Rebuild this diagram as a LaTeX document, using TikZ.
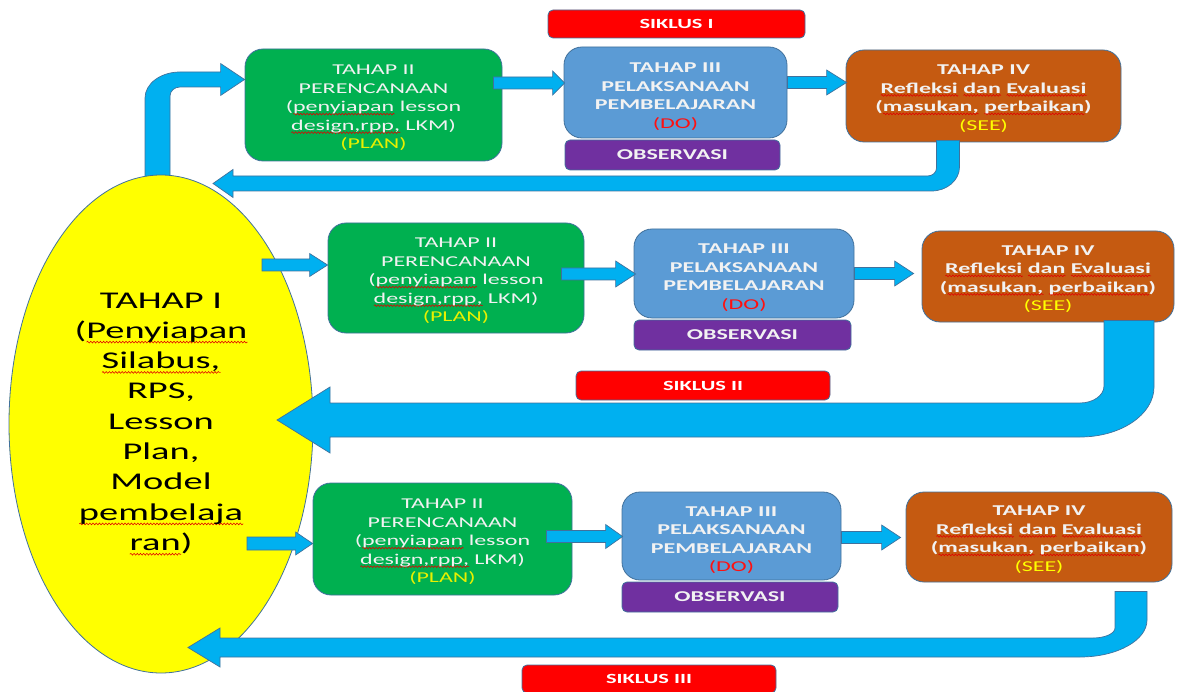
\documentclass[tikz,border=0pt]{standalone}
\usepackage{fontspec}
\setmainfont{Carlito}[FakeStretch=1.6]
\usetikzlibrary{calc,shapes.geometric,decorations.pathmorphing}
\pgfdeclarelayer{bg}
\pgfsetlayers{bg,main}
\definecolor{cgreen}{HTML}{00B050}
\definecolor{cblue}{HTML}{5B9BD5}
\definecolor{corange}{HTML}{C55A11}
\definecolor{cpurple}{HTML}{7030A0}
\definecolor{cred}{HTML}{FF0000}
\definecolor{carrow}{HTML}{00B0F0}
\definecolor{cedge}{HTML}{41719C}
\definecolor{ctext}{HTML}{F2F2F2}
\definecolor{cplan}{HTML}{E8F000}
\definecolor{csee}{HTML}{FFFF00}
\definecolor{cdo}{HTML}{FF1010}
\definecolor{cyel}{HTML}{FFFF00}
\definecolor{wavered}{HTML}{E00000}
\newsavebox\rwbox
\newlength\rwlen
\newcommand\rw[2][3.5pt]{\sbox\rwbox{#2}\setlength\rwlen{\wd\rwbox}%
  \rlap{\raisebox{-#1}{\tikz[x=1pt,y=1pt,sharp corners]\draw[sharp corners,wavered,line width=0.55pt,decorate,decoration={snake,amplitude=0.9pt,segment length=3.2pt}] (0,0) -- (\rwlen,0);}}\usebox\rwbox}
\newcommand\tg[1]{\rule{0pt}{#1}}
\newcommand\harrow[5]{\path[blockarrow] let \p1=#1, \p2=#2 in (\x1,\y1+#3) -- (\x2-#5,\y1+#3) -- (\x2-#5,\y1+#4) -- (\x2,\y1) -- (\x2-#5,\y1-#4) -- (\x2-#5,\y1-#3) -- (\x1,\y1-#3) -- cycle;}
\tikzset{
  box/.style={draw=cedge, line width=0.8pt, rounded corners=18pt, align=center, inner sep=0pt, text=ctext, font=\fontsize{15}{18.5}\selectfont},
  planbox/.style={box, fill=cgreen},
  dobox/.style={box, fill=cblue, font=\fontsize{15}{18.5}\selectfont\bfseries},
  seebox/.style={box, fill=corange, font=\fontsize{15}{18.5}\selectfont\bfseries},
  obsbox/.style={box, fill=cpurple, rounded corners=5pt, font=\fontsize{15}{18}\selectfont\bfseries},
  cyclebox/.style={box, fill=cred, rounded corners=5pt, text=white, font=\fontsize{14}{17}\selectfont\bfseries},
  blockarrow/.style={fill=carrow, draw=cedge, line width=0.7pt, line join=miter},
  stageone/.style={ellipse, draw=cedge, line width=0.8pt, fill=cyel, inner sep=0pt, align=center, text=black, font=\fontsize{24}{30.3}\selectfont}
}
\begin{document}
\begin{tikzpicture}[x=1pt,y=-1pt]
\useasboundingbox (0,0) rectangle (1182,692);
% stage I
\node[stageone, minimum width=304pt, minimum height=498pt] (e) at (161,424)
  {TAHAP I\\(\rw[5pt]{Penyiapan}\\\rw[5pt]{Silabus,}\\RPS,\\Lesson\\Plan,\\Model\\\rw[5pt]{pembelaja}\\\rw[5pt]{ran})};
% row 1
\node[cyclebox, minimum width=257pt, minimum height=28pt] (s1) at (676.5,24) {SIKLUS I};
\node[planbox, minimum width=257pt, minimum height=112pt] (g1) at (373.5,105)
  {\tg{15.7pt}TAHAP II\\PERENCANAAN\\(\rw{penyiapan} lesson\\\rw{design,rpp,} LKM)\\\textcolor{cplan}{(PLAN)}};
\node[dobox, minimum width=223pt, minimum height=91pt] (b1) at (675.5,92.5)
  {\tg{17.7pt}TAHAP III\\PELAKSANAAN\\PEMBELAJARAN\\{\mdseries\color{cdo}(DO)}};
\node[obsbox, minimum width=215pt, minimum height=30pt] (ob1) at (672.5,155) {OBSERVASI};
\node[seebox, minimum width=275pt, minimum height=92pt] (o1) at (983.5,96)
  {\tg{14.7pt}TAHAP IV\\\rw{Refleksi} \rw{dan} \rw{Evaluasi}\\(\rw{masukan,} \rw{perbaikan})\\{\mdseries\color{csee}(SEE)}};
% row 2
\node[planbox, minimum width=256pt, minimum height=110pt] (g2) at (456,278)
  {\tg{15.7pt}TAHAP II\\PERENCANAAN\\(\rw{penyiapan} lesson\\\rw{design,rpp,} LKM)\\\textcolor{cplan}{(PLAN)}};
\node[dobox, minimum width=220pt, minimum height=89pt] (b2) at (744,273.5)
  {\tg{17.7pt}TAHAP III\\PELAKSANAAN\\PEMBELAJARAN\\{\mdseries\color{cdo}(DO)}};
\node[obsbox, minimum width=217pt, minimum height=30pt] (ob2) at (742.5,335) {OBSERVASI};
\node[seebox, minimum width=252pt, minimum height=91pt] (o2) at (1048,276.5)
  {\tg{14.7pt}TAHAP IV\\\rw{Refleksi} \rw{dan} \rw{Evaluasi}\\(\rw{masukan,} \rw{perbaikan})\\{\mdseries\color{csee}(SEE)}};
\node[cyclebox, minimum width=254pt, minimum height=29pt] (s2) at (703,385.5) {SIKLUS II};
% row 3
\node[planbox, minimum width=259pt, minimum height=112pt] (g3) at (442.5,539)
  {\tg{15.7pt}TAHAP II\\PERENCANAAN\\(\rw{penyiapan} lesson\\\rw{design,rpp,} LKM)\\\textcolor{cplan}{(PLAN)}};
\node[dobox, minimum width=219pt, minimum height=88pt] (b3) at (731.5,536)
  {\tg{17.7pt}TAHAP III\\PELAKSANAAN\\PEMBELAJARAN\\{\mdseries\color{cdo}(DO)}};
\node[obsbox, minimum width=216pt, minimum height=30pt] (ob3) at (730,597) {OBSERVASI};
\node[seebox, minimum width=266pt, minimum height=90pt] (o3) at (1039,537)
  {\tg{14.7pt}TAHAP IV\\\rw{Refleksi} \rw{dan} \rw{Evaluasi}\\(\rw{masukan,} \rw{perbaikan})\\{\mdseries\color{csee}(SEE)}};
\node[cyclebox, minimum width=254pt, minimum height=28pt] (s3) at (649,679) {SIKLUS III};
% up arrow from stage I to row 1 (behind the ellipse)
\begin{pgfonlayer}{bg}
\path[blockarrow] let \p1=($(e.north)+(-3.5,5)$), \p2=($(g1.west)+(0,-25.5)$) in
  (\x1-12.5pt,\y1) -- (\x1-12.5pt,\y2+7.5pt-26pt)
  .. controls (\x1-12.5pt,\y2+7.5pt-11.6pt) and (\x1-12.5pt+15.7pt,\y2+7.5pt) .. (\x1-12.5pt+35pt,\y2+7.5pt)
  -- (\x2-24pt,\y2+7.5pt) -- (\x2-24pt,\y2+16pt) -- (\x2,\y2) -- (\x2-24pt,\y2-16pt) -- (\x2-24pt,\y2-7.5pt)
  -- (\x1+12.5pt+10pt,\y2-7.5pt)
  .. controls (\x1+12.5pt+4.5pt,\y2-7.5pt) and (\x1+12.5pt,\y2-7.5pt-4pt) .. (\x1+12.5pt,\y2-7.5pt-9pt)
  -- (\x1+12.5pt,\y1) -- cycle;
\end{pgfonlayer}
% straight arrows
\harrow{($(g1.east)+(-9,-22)$)}{($(b1.west)+(1,0)$)}{6pt}{12pt}{12pt}
\harrow{($(b1.east)+(0,-10)$)}{($(o1.west)+(1,0)$)}{6pt}{12.5pt}{20pt}
\harrow{($(e.center)+(101,-159)$)}{(g2.west)}{6pt}{11.5pt}{18pt}
\harrow{($(g2.east)+(-23,-4)$)}{($(b2.west)+(2,0)$)}{6pt}{13pt}{20pt}
\harrow{(b2.east)}{($(o2.west)+(-8,0)$)}{6pt}{12.5pt}{19pt}
\harrow{($(e.center)+(86,119.5)$)}{(g3.west)}{6.5pt}{11.5pt}{17pt}
\harrow{($(g3.east)+(-26,-2.5)$)}{($(b3.west)+(1,0)$)}{6pt}{12pt}{17pt}
\harrow{($(b3.east)+(0,1.5)$)}{($(o3.west)+(-5,0)$)}{6pt}{12.5pt}{19pt}
% return arrow 1
\path[blockarrow] let \p1=($(o1.south)+(-35.5,-2)$), \p2=($(e.center)+(52,-240.5)$) in
  (\x1-11.5pt,\y1) -- (\x1-11.5pt,\y2+7.5pt+8pt)
  .. controls (\x1-11.5pt,\y2+7.5pt+3.6pt) and (\x1-11.5pt-4pt,\y2+7.5pt) .. (\x1-11.5pt-9pt,\y2+7.5pt)
  -- (\x2+20pt,\y2+7.5pt) -- (\x2+20pt,\y2+14pt) -- (\x2,\y2) -- (\x2+20pt,\y2-14pt) -- (\x2+20pt,\y2-7.5pt)
  -- (\x1+11.5pt-28pt,\y2-7.5pt)
  .. controls (\x1+11.5pt-12.5pt,\y2-7.5pt) and (\x1+11.5pt,\y2-7.5pt+10.8pt) .. (\x1+11.5pt,\y2-7.5pt+24pt)
  -- (\x1+11.5pt,\y1) -- cycle;
% return arrow 2
\path[blockarrow] let \p1=($(o2.south)+(81,-2)$), \p2=($(e.center)+(116,-4)$) in
  (\x1-25pt,\y1) -- (\x1-25pt,\y2+17pt+17pt)
  .. controls (\x1-25pt,\y2+17pt+7.6pt) and (\x1-25pt-10.8pt,\y2+17pt) .. (\x1-25pt-24pt,\y2+17pt)
  -- (\x2+53pt,\y2+17pt) -- (\x2+53pt,\y2+33pt) -- (\x2,\y2) -- (\x2+53pt,\y2-33pt) -- (\x2+53pt,\y2-17pt)
  -- (\x1+25pt-74pt,\y2-17pt)
  .. controls (\x1+25pt-33.2pt,\y2-17pt) and (\x1+25pt,\y2-17pt+22.4pt) .. (\x1+25pt,\y2-17pt+50pt)
  -- (\x1+25pt,\y1) -- cycle;
% return arrow 3
\path[blockarrow] let \p1=($(o3.south)+(92,9)$), \p2=($(e.center)+(27,223.5)$) in
  (\x1-16pt,\y1) -- (\x1-16pt,\y2+9.5pt+10pt)
  .. controls (\x1-16pt,\y2+9.5pt+4.5pt) and (\x1-16pt-9.9pt,\y2+9.5pt) .. (\x1-16pt-22pt,\y2+9.5pt)
  -- (\x2+32pt,\y2+9.5pt) -- (\x2+32pt,\y2+19.5pt) -- (\x2,\y2) -- (\x2+32pt,\y2-19.5pt) -- (\x2+32pt,\y2-9.5pt)
  -- (\x1+16pt-67pt,\y2-9.5pt)
  .. controls (\x1+16pt-30pt,\y2-9.5pt) and (\x1+16pt,\y2-9.5pt+16.6pt) .. (\x1+16pt,\y2-9.5pt+37pt)
  -- (\x1+16pt,\y1) -- cycle;
\end{tikzpicture}
\end{document}
